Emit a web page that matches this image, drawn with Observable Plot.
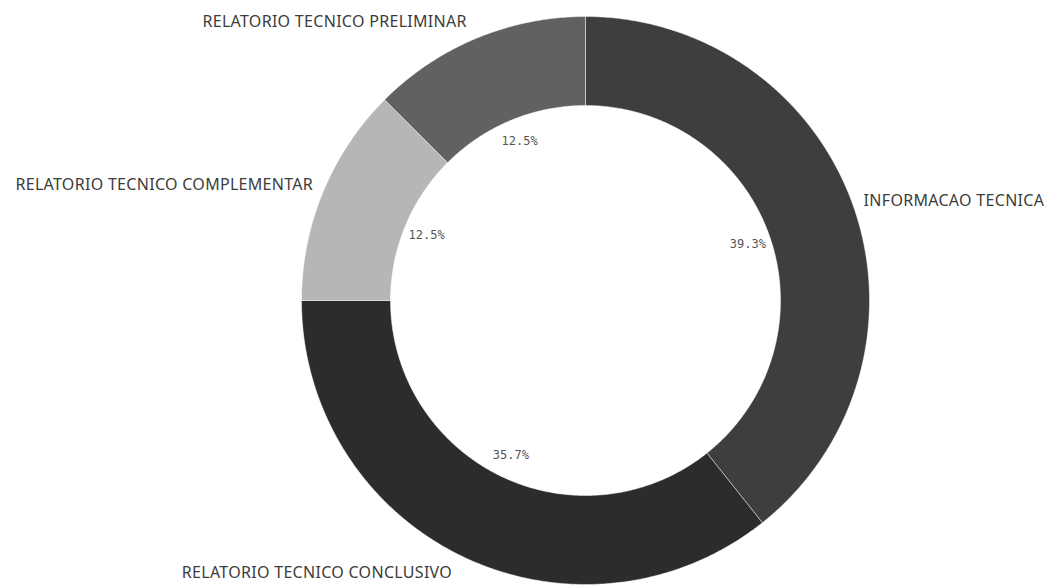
<!DOCTYPE html>
<html>
<head>
<meta charset="utf-8">
<script src="https://cdn.jsdelivr.net/npm/d3@7"></script>
<script src="https://cdn.jsdelivr.net/npm/@observablehq/plot@0.6"></script>
<style>
  html, body { margin: 0; padding: 0; background: #fff; }
  #chart { width: 1045px; height: 586px; overflow: hidden; }
  #chart g.outer-label text { letter-spacing: 0.3px; }
</style>
</head>
<body>
<div id="chart"></div>
<script>
// ---- data ----
const categories = ["INFORMACAO TECNICA", "RELATORIO TECNICO CONCLUSIVO", "RELATORIO TECNICO COMPLEMENTAR", "RELATORIO TECNICO PRELIMINAR"];
const shares = [39.3, 35.7, 12.5, 12.5];
const percentLabels = ["39.3%", "35.7%", "12.5%", "12.5%"];
const sliceColors = ["#3d3f3d", "#2b2d2b", "#b6b6b6", "#5f625f"];

// ---- layout (pixels) ----
const W = 1045, H = 586;
const CX = 585, CY = 300;
const R_OUT = 284, R_IN = 195, R_PCT = 172, R_LAB_Y = 302, LAB_PAD = 10;

const total = d3.sum(shares);
let acc = 0;
const slices = categories.map((c, i) => {
  const a0 = acc / total * 2 * Math.PI;
  acc += shares[i];
  const a1 = acc / total * 2 * Math.PI;
  return {cat: c, share: shares[i], pct: percentLabels[i], a0, a1, mid: (a0 + a1) / 2};
});

// ring polygons (angle clockwise from 12 o'clock; y positive up)
const ringPts = [];
for (const s of slices) {
  const n = Math.max(8, Math.ceil((s.a1 - s.a0) / (Math.PI / 360)));
  const pts = [];
  for (let k = 0; k <= n; k++) {
    const a = s.a0 + (s.a1 - s.a0) * k / n;
    pts.push([R_OUT * Math.sin(a), R_OUT * Math.cos(a)]);
  }
  for (let k = n; k >= 0; k--) {
    const a = s.a0 + (s.a1 - s.a0) * k / n;
    pts.push([R_IN * Math.sin(a), R_IN * Math.cos(a)]);
  }
  pts.push(pts[0]);
  for (const [x, y] of pts) ringPts.push({cat: s.cat, x, y});
}

const pctPts = slices.map(s => ({text: s.pct, x: R_PCT * Math.sin(s.mid), y: R_PCT * Math.cos(s.mid)}));
const labPts = slices.map(s => {
  const sn = Math.sin(s.mid), cs = Math.cos(s.mid);
  return {text: s.cat, right: sn >= 0,
    x: R_OUT * sn + Math.sign(sn) * LAB_PAD,
    y: R_LAB_Y * cs};
});

const chart = Plot.plot({
  width: W, height: H,
  margin: 0,
  style: {background: "#fff", fontFamily: "'Noto Sans', sans-serif"},
  x: {domain: [-CX, W - CX], axis: null},
  y: {domain: [-(H - CY), CY], axis: null},
  color: {domain: categories, range: sliceColors},
  marks: [
    Plot.line(ringPts, {x: "x", y: "y", z: "cat", fill: "cat", stroke: "#ffffff", strokeOpacity: 0.45, strokeWidth: 1, curve: "linear"}),
    Plot.text(pctPts, {x: "x", y: "y", text: "text", fill: "#555", fontSize: 12, fontFamily: "'DejaVu Sans Mono', monospace"}),
    Plot.text(labPts.filter(d => d.right), {x: "x", y: "y", text: "text", textAnchor: "start", fill: "#3c3c3c", fontSize: 16, className: "outer-label"}),
    Plot.text(labPts.filter(d => !d.right), {x: "x", y: "y", text: "text", textAnchor: "end", fill: "#3c3c3c", fontSize: 16, className: "outer-label"})
  ]
});
document.getElementById("chart").appendChild(chart);
</script>
</body>
</html>
